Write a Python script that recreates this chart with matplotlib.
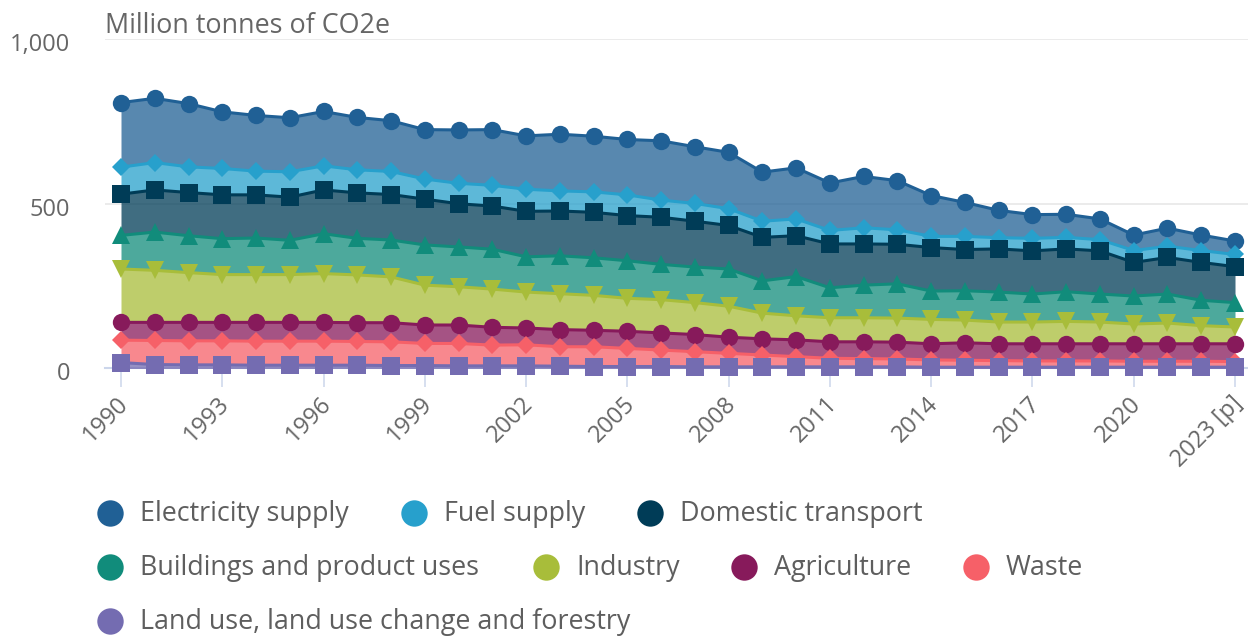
import numpy as np
import matplotlib
matplotlib.use('Agg')
import matplotlib.pyplot as plt
from matplotlib.lines import Line2D
from matplotlib.transforms import ScaledTranslation

# Territorial greenhouse gas emissions by sector, million tonnes CO2e
years = list(range(1990, 2024))
tick_years = [1990, 1993, 1996, 1999, 2002, 2005, 2008, 2011, 2014, 2017, 2020, 2023]
tick_labels = ['1990', '1993', '1996', '1999', '2002', '2005', '2008', '2011',
               '2014', '2017', '2020', '2023 [p]']
y_ticks = [0, 500, 1000]
y_tick_labels = ['0', '500', '1,000']

electricity = [196, 195, 192, 172, 169, 164, 165, 159, 154, 150, 162, 169, 162, 172, 169, 168, 180,
               172, 171, 149, 155, 144, 156, 149, 124, 103, 83, 72, 70, 63, 47, 55, 47, 41]
fuel_supply = [82, 83, 78, 80, 72, 77, 73, 70, 70, 61, 62, 63, 67, 61, 62, 63, 52, 54, 51, 49, 51,
               41, 49, 44, 34, 40, 34, 38, 35, 34, 36, 34, 36, 37]
transport = [125, 128, 131, 133, 131, 131, 133, 138, 138, 139, 131, 131, 138, 136, 138, 137, 143,
             139, 132, 132, 124, 133, 125, 120, 132, 125, 131, 131, 130, 131, 102, 111, 115, 109]
buildings = [102, 116, 112, 109, 111, 104, 121, 111, 112, 122, 121, 121, 107, 115, 114, 114, 107,
             108, 113, 98, 119, 91, 99, 104, 86, 89, 91, 85, 90, 85, 85, 88, 77, 74]
industry = [162, 158, 151, 145, 145, 145, 148, 145, 139, 121, 116, 116, 109, 109, 106, 100, 101,
            97, 94, 78, 73, 73, 73, 73, 74, 69, 66, 66, 68, 66, 60, 63, 55, 51]
agriculture = [54, 55, 56, 56, 57, 57, 57, 57, 58, 56, 56, 54, 51, 52, 50, 52, 52, 52, 49, 49, 51,
               50, 51, 51, 49, 53, 51, 52, 52, 52, 53, 53, 53, 54]
waste = [68, 73, 73, 73, 73, 73, 73, 72, 72, 67, 68, 63, 64, 59, 60, 55, 50, 46, 41, 36, 31, 26,
         25, 24, 22, 21, 20, 19, 19, 19, 18, 18, 18, 17]
lulucf = [18, 12, 11, 11, 10, 10, 10, 10, 9, 9, 8, 8, 8, 7, 6, 6, 6, 5, 5, 5, 5, 5, 5, 5, 4, 4, 4,
          4, 4, 4, 4, 4, 4, 4]

# legend order (top of stack first)
names = ['Electricity supply', 'Fuel supply', 'Domestic transport',
         'Buildings and product uses', 'Industry', 'Agriculture', 'Waste',
         'Land use, land use change and forestry']
series = [electricity, fuel_supply, transport, buildings, industry, agriculture, waste, lulucf]
colors = ['#206095', '#27a0cc', '#003c57', '#118c7b', '#a8bd3a', '#871a5b', '#f66068', '#746cb1']
markers = ['o', 'D', 's', '^', 'v', 'o', 'D', 's']
msizes = [12.5, 9, 12.5, 12.5, 12.5, 12.5, 9, 12.5]

plt.rcParams['font.family'] = ['Open Sans', 'DejaVu Sans']

W, H = 1248, 636
fig = plt.figure(figsize=(W / 100, H / 100), dpi=100)
ax = fig.add_axes([105 / W, 1 - 368.5 / H, 1143 / W, 329.5 / H])

# stack from the bottom series upward
vals = np.array(series[::-1], dtype=float)
tops = np.cumsum(vals, axis=0)[::-1]
bottoms = np.vstack([tops[1:], np.zeros(len(years))])

for k in range(len(series)):
    z = 2 + k * 0.3
    ax.fill_between(years, bottoms[k], tops[k], color=colors[k], alpha=0.75,
                    lw=0, zorder=z)
    ax.plot(years, tops[k], color=colors[k], lw=2.2, marker=markers[k],
            ms=msizes[k], mew=0, zorder=z + 0.1, clip_on=False)

ax.set_xlim(1989.526, 2023.385)
ax.set_ylim(0, 1000)
ax.set_xticks(tick_years)
ax.set_xticklabels(tick_labels, rotation=45, ha='right', va='center',
                   rotation_mode='anchor')
ax.set_yticks(y_ticks)
ax.set_yticklabels(y_tick_labels)

for s in ['top', 'right', 'left']:
    ax.spines[s].set_visible(False)
ax.spines['bottom'].set_color('#ccd6eb')
ax.spines['bottom'].set_linewidth(1.5)
ax.yaxis.grid(True, color='#e6e6e6', lw=1.1)
ax.set_axisbelow(True)

ax.tick_params(axis='x', length=14, width=1.1, color='#ccd6eb', labelsize=17,
               labelcolor='#666666', pad=9)
ax.tick_params(axis='y', length=0, pad=25, labelsize=17, labelcolor='#666666')

off_x = ScaledTranslation(4 / 100, 0, fig.dpi_scale_trans)
for lab in ax.get_xticklabels():
    lab.set_transform(lab.get_transform() + off_x)
off_y = ScaledTranslation(0, -3 / 100, fig.dpi_scale_trans)
for lab in ax.get_yticklabels():
    lab.set_transform(lab.get_transform() + off_y)

fig.text(105 / W, 1 - 33 / H, 'Million tonnes of CO2e', fontsize=19.4,
         color='#666666', va='baseline', ha='left')

# legend laid out in rows, positions in pixels
legend_pos = [(110, 513), (414, 513), (650, 513),
              (110, 567), (546, 567), (744, 567), (976, 567),
              (110, 621)]
for (px, py), name, c in zip(legend_pos, names, colors):
    fig.add_artist(Line2D([px / W], [1 - py / H], marker='o', ms=19, mew=0,
                          color=c, transform=fig.transFigure))
    fig.text((px + 30) / W, 1 - (py + 1) / H, name, fontsize=19.4, color='#5e5e5e',
             va='center', ha='left')

fig.savefig('out.png', dpi=100)
